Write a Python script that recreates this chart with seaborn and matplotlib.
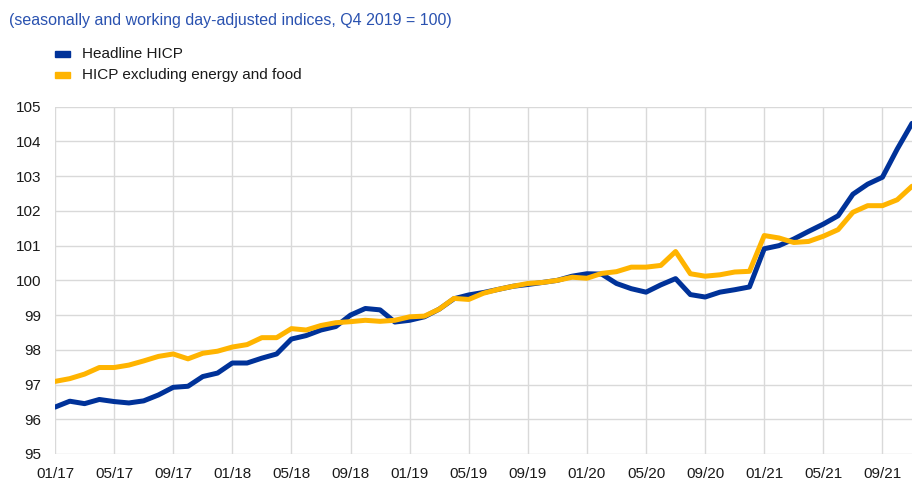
import numpy as np
import pandas as pd
import matplotlib
matplotlib.use("Agg")
import matplotlib.pyplot as plt
import seaborn as sns

# monthly index values, 01/2017 - 11/2021 (Q4 2019 = 100)
months = pd.date_range("2017-01-01", "2021-11-01", freq="MS")

headline = [96.35, 96.52, 96.45, 96.57, 96.51, 96.47, 96.53, 96.70, 96.92, 96.95,
            97.23, 97.33, 97.62, 97.62, 97.76, 97.88, 98.31, 98.41, 98.57, 98.67,
            99.00, 99.19, 99.15, 98.80, 98.85, 98.95, 99.17, 99.47, 99.58, 99.65,
            99.74, 99.83, 99.88, 99.94, 100.00, 100.12, 100.19, 100.18, 99.91, 99.76,
            99.66, 99.87, 100.05, 99.59, 99.52, 99.66, 99.73, 99.81, 100.91, 101.00,
            101.19, 101.41, 101.62, 101.86, 102.48, 102.77, 102.97, 103.78, 104.52]

core = [97.09, 97.17, 97.30, 97.49, 97.49, 97.56, 97.68, 97.81, 97.88, 97.74,
        97.90, 97.96, 98.08, 98.15, 98.35, 98.35, 98.61, 98.57, 98.70, 98.78,
        98.81, 98.85, 98.82, 98.85, 98.95, 98.97, 99.17, 99.48, 99.45, 99.63,
        99.74, 99.83, 99.91, 99.94, 100.00, 100.09, 100.06, 100.20, 100.25, 100.38,
        100.38, 100.43, 100.83, 100.19, 100.12, 100.16, 100.24, 100.26, 101.29, 101.22,
        101.09, 101.12, 101.27, 101.46, 101.96, 102.15, 102.15, 102.32, 102.71]

series_names = ["Headline HICP", "HICP excluding energy and food"]
colors = ["#003299", "#ffb400"]

df = pd.DataFrame({"month": np.arange(len(months)),
                   series_names[0]: headline,
                   series_names[1]: core})
long = df.melt(id_vars="month", var_name="series", value_name="index")

sns.set_style("white")
plt.rcParams["font.family"] = ["Liberation Sans", "DejaVu Sans"]

fig = plt.figure(figsize=(9.16, 4.8), dpi=100)
ax = fig.add_axes([55 / 916, 26 / 480, 857 / 916, 347.3 / 480])

sns.lineplot(data=long, x="month", y="index", hue="series",
             palette=colors, linewidth=3.6, ax=ax, legend=False)

# ticks every 4 months
tick_pos = np.arange(0, len(months), 4)
ax.set_xticks(tick_pos)
ax.set_xticklabels([months[i].strftime("%m/%y") for i in tick_pos])
ax.set_xlim(0, len(months) - 1)
ax.set_ylim(95, 105)
ax.set_yticks(range(95, 106))
ax.set_xlabel("")
ax.set_ylabel("")
ax.grid(True, color="#d9d9d9", linewidth=1)
ax.set_axisbelow(True)
for s in ax.spines.values():
    s.set_visible(False)
ax.tick_params(length=0, labelsize=11, colors="#1a1a1a")
ax.tick_params(axis="y", pad=10)
ax.tick_params(axis="x", pad=9)

# legend
for k, (name, c) in enumerate(zip(series_names, colors)):
    y = 1 - (54 + 21 * k) / 480
    fig.patches.append(plt.Rectangle((55 / 916, y - 3 / 480), 15 / 916, 6 / 480,
                                     transform=fig.transFigure, color=c))
    fig.text(82 / 916, y, name, fontsize=11, va="center", ha="left", color="#1a1a1a")

fig.text(9 / 916, 1 - 21 / 480, "(seasonally and working day-adjusted indices, Q4 2019 = 100)",
         fontsize=11.5, color="#2a52b0", va="center", ha="left")

fig.savefig("out.png", dpi=100)
